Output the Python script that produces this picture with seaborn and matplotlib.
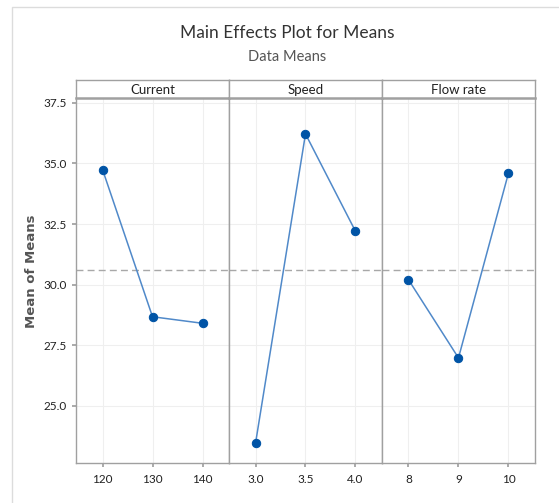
import matplotlib
matplotlib.use("Agg")
import matplotlib.pyplot as plt
import matplotlib.patches as mpatches
import seaborn as sns
import pandas as pd

factors = ["Current", "Speed", "Flow rate"]
current_levels = [120, 130, 140]
current_means = [34.75, 28.67, 28.40]
speed_levels = [3.0, 3.5, 4.0]
speed_means = [23.44, 36.22, 32.20]
flow_levels = [8, 9, 10]
flow_means = [30.20, 26.97, 34.60]
level_labels = [["120", "130", "140"], ["3.0", "3.5", "4.0"], ["8", "9", "10"]]

df = pd.DataFrame({
    "factor": ["Current"] * 3 + ["Speed"] * 3 + ["Flow rate"] * 3,
    "level": current_levels + speed_levels + flow_levels,
    "mean": current_means + speed_means + flow_means,
})
grand_mean = df["mean"].mean()

sns.set_theme(style="white")
plt.rcParams["font.family"] = ["Lato", "DejaVu Sans"]

fig, axes = plt.subplots(1, 3, figsize=(5.59, 5.03), dpi=100, sharey=True)
plt.subplots_adjust(left=0.136, right=0.957, top=0.805, bottom=0.0795, wspace=0)

line_col = "#5089c9"
mark_col = "#0054a6"
spine_col = "#a0a0a0"

for i, (ax, f) in enumerate(zip(axes, factors)):
    d = df[df["factor"] == f]
    lv = list(d["level"])
    step = lv[1] - lv[0]
    sns.lineplot(data=d, x="level", y="mean", ax=ax, color=line_col, lw=1.1,
                 marker="o", markersize=6, markerfacecolor=mark_col,
                 markeredgecolor=mark_col, zorder=3)
    ax.axhline(grand_mean, color="#a8a8a8", ls=(0, (5, 3)), lw=1, zorder=2)
    ax.set_xlim(lv[0] - 0.53 * step, lv[-1] + 0.53 * step)
    ax.set_xticks(lv)
    ax.set_xticklabels(level_labels[i])
    ax.set_xlabel("")
    ax.set_ylabel("")
    ax.grid(True, color="#efefef", lw=0.8)
    ax.set_axisbelow(True)
    for s in ax.spines.values():
        s.set_color(spine_col)
        s.set_linewidth(1)
    ax.spines["top"].set_visible(False)
    ax.tick_params(axis="x", length=3, color=spine_col, labelsize=8.5,
                   labelcolor="#222222", pad=5, bottom=True)
    ax.tick_params(axis="y", length=3, color=spine_col, labelsize=8.5,
                   labelcolor="#222222", left=(i == 0))
    # strip
    pos = ax.get_position()
    sax = fig.add_axes([pos.x0, pos.y1, pos.width, 18 / 503])
    sax.set_xticks([])
    sax.set_yticks([])
    for s in sax.spines.values():
        s.set_color(spine_col)
        s.set_linewidth(1)
    sax.spines["bottom"].set_linewidth(1.8)
    sax.text(0.5, 0.45, f, ha="center", va="center", fontsize=9.5,
             color="#222222", transform=sax.transAxes)

axes[0].set_ylim(22.63, 37.7)
axes[0].set_yticks([25.0, 27.5, 30.0, 32.5, 35.0, 37.5])
axes[0].set_yticklabels(["25.0", "27.5", "30.0", "32.5", "35.0", "37.5"])
axes[0].set_ylabel("Mean of Means", fontfamily="DejaVu Sans", fontsize=9.5,
                   fontweight="bold", color="#555555")
axes[0].yaxis.set_label_coords(-0.247, 0.525)

fig.text(0.513, 0.934, "Main Effects Plot for Means", ha="center", va="center",
         fontsize=12.5, color="#333333")
fig.text(0.513, 0.886, "Data Means", ha="center", va="center",
         fontsize=10.5, color="#555555")

fig.patches.append(mpatches.Rectangle((12 / 559, -0.1), 1.2, 1.1 - 7 / 503,
                                      transform=fig.transFigure, fill=False,
                                      edgecolor="#dcdcdc", lw=1))

fig.savefig("out.png", dpi=100)
